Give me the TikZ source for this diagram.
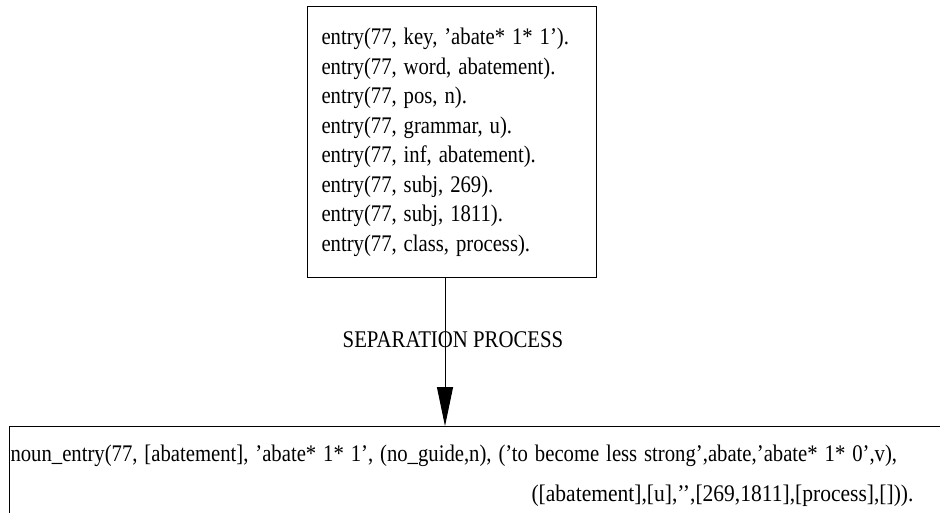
\documentclass[tikz,border=0pt]{standalone}
\usepackage{fontspec}
\setmainfont{Liberation Serif}
\usetikzlibrary{arrows.meta}
\tikzset{
  recbox/.style={draw=black, line width=1pt, rectangle, inner ysep=0pt},
  listfont/.style={font=\fontsize{20.7}{25.65}\selectfont},
  flow/.style={line width=1pt, -{Triangle[width=16pt,length=39pt]}},
}
\begin{document}
\begin{tikzpicture}[x=1pt, y={(0pt,-0.869565pt)}, yscale=1.15,
  every node/.append style={transform shape}]
  \clip (0,0) rectangle (940,512);
  \fill[white] (0,0) rectangle (940,512);

  % source facts
  \node[recbox, listfont, anchor=north west, minimum width=289pt,
        minimum height=235.65pt, text width=261pt, inner xsep=14pt,
        align=left] (src) at (307,6)
  {entry(77, key, ’abate* 1* 1’).\\
   entry(77, word, abatement).\\
   entry(77, pos, n).\\
   entry(77, grammar, u).\\
   entry(77, inf, abatement).\\
   entry(77, subj, 269).\\
   entry(77, subj, 1811).\\
   entry(77, class, process).};

  % resulting term
  \node[recbox, anchor=north west, minimum width=1000pt, minimum height=85.2pt,
        text width=998pt, inner xsep=1pt, align=left,
        font=\fontsize{20.7}{34.8}\selectfont] (dst) at (9,426)
  {noun\_entry(77, [abatement], ’abate* 1* 1’, (no\_guide,n), (’to become less strong’,abate,’abate* 1* 0’,v),\\
   \makebox[903pt][r]{\scalebox{1.04}[1]{([abatement],[u],’{}’,[269,1811],[process],[])).}}};

  \node[font=\fontsize{20.8}{25}\selectfont, inner sep=0pt] (lbl) at (453,340)
    {SEPARATION PROCESS};

  \coordinate (ax) at (445,0);
  \draw[flow] (src.south -| ax) -- (dst.north -| ax);
\end{tikzpicture}
\end{document}
